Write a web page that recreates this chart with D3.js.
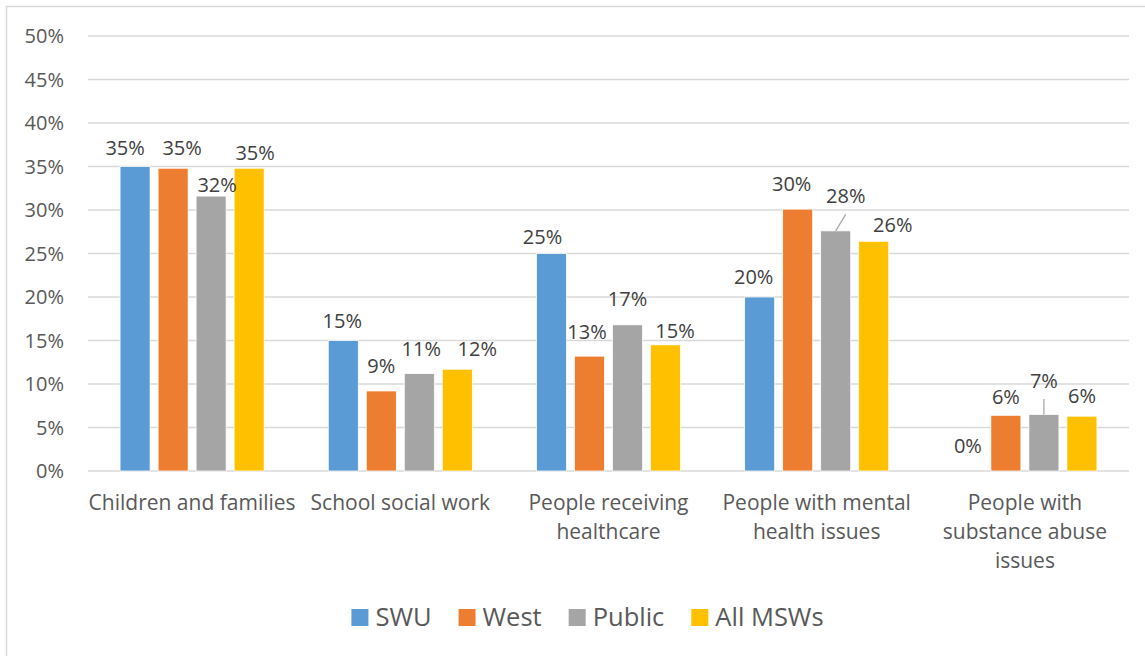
<!DOCTYPE html>
<html>
<head>
    <meta charset="UTF-8" />
    <title>MSW practice areas</title>
    <script src="https://d3js.org/d3.v7.min.js"></script>
    <style>
    body { margin: 0; background: #fff; }
    text { font-family: "Open Sans", sans-serif; }
    </style>
</head>
<body>
<div id="main"></div>
<script type="text/javascript">

// data (percent)
const categories = ["Children and families", "School social work", "People receiving\nhealthcare",
                    "People with mental\nhealth issues", "People with\nsubstance abuse\nissues"]
const seriesNames = ["SWU", "West", "Public", "All MSWs"]
const swu     = [35.0, 15.0, 25.0, 20.0, 0.0]
const west    = [34.8, 9.2, 13.2, 30.1, 6.4]
const pub     = [31.6, 11.2, 16.8, 27.6, 6.5]
const allMsw  = [34.8, 11.7, 14.5, 26.4, 6.3]
const yTicks  = [0, 5, 10, 15, 20, 25, 30, 35, 40, 45, 50]

const colours = ["#5B9BD5", "#ED7D31", "#A5A5A5", "#FFC000"]

// label nudges [dx, dy] so labels sit like the original (manual placement)
const labelNudge = [
  [[-10, 1], [9, 0], [6, 9], [6, 5]],
  [[-1, 0], [0, -4.5], [2, -4.5], [20, 0]],
  [[-9, 3.5], [-2.5, -4.5], [0, -6], [9.5, 6.5]],
  [[-6, 0], [-6, -5], [10, -14.5], [19, 4]],
  [[0, -5.5], [0, 1.5], [0, -13.5], [0, 0]]
]

const seriesValues = [swu, west, pub, allMsw]
const data = categories.map((c, i) => ({
  category: c,
  values: seriesNames.map((s, j) => ({ series: s, idx: j, cat: i, value: seriesValues[j][i] }))
}))

const width = 1145
const height = 656
const plotLeft = 88, plotRight = 1129, plotTop = 36, plotBottom = 471

const svg = d3.select("#main").append("svg")
  .attr("width", width)
  .attr("height", height)

// chart border
svg.append("rect")
  .attr("x", 6.5).attr("y", 6.5)
  .attr("width", width).attr("height", height)
  .attr("fill", "#fff")
  .attr("stroke", "#D9D9D9")
  .attr("stroke-width", 1.5)

const x0 = d3.scaleBand()
  .domain(categories)
  .range([plotLeft, plotRight])
  .paddingInner(0.308)
  .paddingOuter(0.154)

const x1 = d3.scaleBand()
  .domain(seriesNames)
  .range([0, x0.bandwidth()])
  .paddingInner(0.2105)

const y = d3.scaleLinear()
  .domain([0, 50])
  .range([plotBottom, plotTop])

// gridlines
svg.append("g").selectAll("line").data(yTicks).enter().append("line")
  .attr("x1", plotLeft).attr("x2", plotRight)
  .attr("y1", d => y(d)).attr("y2", d => y(d))
  .attr("stroke", "#D9D9D9")
  .attr("stroke-width", 1.5)

// y labels
svg.append("g").selectAll("text").data(yTicks).enter().append("text")
  .attr("x", 64)
  .attr("y", d => y(d))
  .attr("dy", "0.35em")
  .attr("text-anchor", "end")
  .attr("fill", "#595959")
  .style("font-size", "20px")
  .text(d => d + "%")

// bars
const groups = svg.append("g").selectAll("g").data(data).enter().append("g")
  .attr("transform", d => `translate(${x0(d.category)},0)`)

groups.selectAll("rect").data(d => d.values).enter().append("rect")
  .attr("x", d => x1(d.series))
  .attr("y", d => y(d.value))
  .attr("width", x1.bandwidth())
  .attr("height", d => y(0) - y(d.value))
  .attr("fill", d => colours[d.idx])
  .attr("stroke", "#fff")
  .attr("stroke-width", 0.75)

// data labels
const labelPos = d => {
  const n = labelNudge[d.cat][d.idx]
  return [x1(d.series) + x1.bandwidth() / 2 + n[0], y(d.value) - 20 + n[1]]
}

groups.selectAll("line.leader").data(d => d.values.filter(v => labelNudge[v.cat][v.idx][1] < -10))
  .enter().append("line")
  .attr("class", "leader")
  .attr("x1", d => labelPos(d)[0])
  .attr("y1", d => labelPos(d)[1] + 18)
  .attr("x2", d => x1(d.series) + x1.bandwidth() / 2)
  .attr("y2", d => y(d.value))
  .attr("stroke", "#A6A6A6")
  .attr("stroke-width", 1.25)

groups.selectAll("text.lbl").data(d => d.values).enter().append("text")
  .attr("class", "lbl")
  .attr("x", d => labelPos(d)[0])
  .attr("y", d => labelPos(d)[1])
  .attr("dy", "0.35em")
  .attr("text-anchor", "middle")
  .attr("fill", "#404040")
  .style("font-size", "20px")
  .text(d => Math.round(d.value) + "%")

// category labels
const catLabels = svg.append("g").selectAll("text").data(categories).enter().append("text")
  .attr("x", d => x0(d) + x0.bandwidth() / 2)
  .attr("y", 510)
  .attr("text-anchor", "middle")
  .attr("fill", "#595959")
  .style("font-size", "21px")

catLabels.selectAll("tspan").data(d => d.split("\n")).enter().append("tspan")
  .attr("x", function() { return d3.select(this.parentNode).attr("x") })
  .attr("dy", (d, i) => i === 0 ? 0 : 29)
  .text(d => d)

// legend
const legend = svg.append("g")
let lx = 0
seriesNames.forEach((s, i) => {
  const item = legend.append("g").attr("transform", `translate(${lx},0)`)
  item.append("rect")
    .attr("x", 0).attr("y", 609)
    .attr("width", 17).attr("height", 17)
    .attr("fill", colours[i])
  const t = item.append("text")
    .attr("x", 24).attr("y", 626)
    .attr("fill", "#595959")
    .style("font-size", "25.5px")
    .text(s)
  lx += 24 + t.node().getComputedTextLength() + 27
})
const legendWidth = lx - 27
legend.attr("transform", `translate(${587.5 - legendWidth / 2},0)`)

</script>
</body>
</html>
